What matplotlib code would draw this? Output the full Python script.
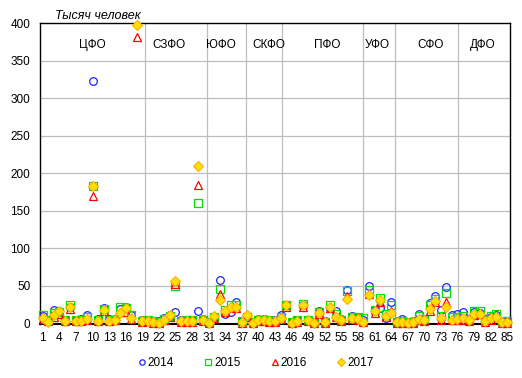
import numpy as np
import matplotlib
matplotlib.use("Agg")
import matplotlib.pyplot as plt

plt.rcParams['font.family'] = ['Liberation Sans', 'DejaVu Sans']

nan = np.nan
regions = np.arange(1, 86)

# тысяч человек, по регионам (1..85)
v2014 = [10, 5, 18, 17, 5, 22, 5, 6, 11, 323, 6, 20, 6, 6, 19, 22, 11, nan, 4, 5,
         3, 3, 7, 11, 15, 4, 5, 4, 17, 6, 2, 9, 58, 13, 15, 29, 3, 8, 2, 6,
         6, 5, 4, 11, 25, 2, 4, 25, 5, 2, 17, 3, 20, 16, 6, 44, 10, 8, 4, 50,
         18, 20, 7, 29, 3, 6, 2, 3, 12, 5, 27, 36, 18, 48, 11, 13, 15, 6, 15, 14,
         6, 9, 11, 3, 3]
v2015 = [11, 4, 14, 15, 5, 25, 4, 5, 8, 183, 5, 19, 5, 5, 22, 20, 11, nan, 3, 4,
         3, 2, 6, 10, 50, 3, 4, 4, 160, 5, 2, 8, 46, 18, 25, 24, 3, 9, 2, 5,
         5, 4, 3, 8, 25, 2, 4, 26, 5, 2, 15, 2, 24, 12, 5, 43, 8, 8, 7, 45,
         18, 34, 12, 24, 2, 3, 2, 2, 10, 6, 24, 32, 10, 41, 9, 8, 10, 5, 16, 16,
         4, 10, 13, 3, 3]
v2016 = [6, 3, 8, 13, 3, 19, 3, 3, 5, 170, 3, 17, 3, 4, 15, 15, 6, 381, 2, 3,
         1, 1, 4, 8, 52, 2, 2, 2, 185, 3, 1, 7, 39, 15, 20, 21, 1, 8, 1, 3,
         3, 2, 2, 6, 22, 1, 2, 22, 3, 1, 13, 1, 21, 9, 3, 37, 6, 5, 2, 39,
         14, 28, 8, 17, 1, 1, 1, 1, 5, 3, 16, 28, 4, 29, 5, 4, 5, 3, 11, 12,
         2, 5, 8, 1, 1]
v2017 = [7, 2.5, 11, 16, 3, 22, 3, 3, 6, 183, 3, 18, 3, 4, 14, 20, 7, 397, 3, 3,
         2, 1, 5, 11, 56, 3, 3, 3, 210, 4, 1, 10, 31, 16, 22, 22, 2, 11, 1, 4,
         4, 3, 3, 7, 24, 1, 3, 24, 4, 1, 14, 2, 22, 9, 4, 32, 7, 6, 2, 38,
         16, 31, 10, 14, 2, 2, 1, 2, 6, 4, 19, 30, 7, 22, 5, 6, 7, 5, 12, 12,
         3, 7, 9, 2, 2]

districts = ["ЦФО", "СЗФО", "ЮФО", "СКФО", "ПФО", "УФО", "СФО", "ДФО"]
district_x = [9.9, 23.8, 33.2, 41.8, 52.5, 61.5, 71.1, 80.5]
borders = [19.55, 30.65, 37.75, 44.35, 58.85, 64.75, 76.1]

fig = plt.figure(figsize=(5.22, 3.78), dpi=100)
ax = fig.add_axes([40 / 522, 1 - 323.5 / 378, 470 / 522, 300.5 / 378])

ax.plot(regions, v2014, ls='none', marker='o', ms=5.5, mfc='none', mec='#2020FF', mew=0.9, label='2014', zorder=3, clip_on=False)
ax.plot(regions, v2015, ls='none', marker='s', ms=5.5, mfc='none', mec='#00E000', mew=0.9, label='2015', zorder=4, clip_on=False)
ax.plot(regions, v2016, ls='none', marker='^', ms=6, mfc='none', mec='#FF0000', mew=0.9, label='2016', zorder=5, clip_on=False)
ax.plot(regions, v2017, ls='none', marker='D', ms=5.5, mfc='#FFE000', mec='#FFB000', mew=0.8, label='2017', zorder=6, clip_on=False)

ax.set_xlim(0.5, 85.5)
ax.set_ylim(0, 400)
ax.set_xticks(np.arange(1, 86, 3))
ax.set_yticks(np.arange(0, 401, 50))
ax.tick_params(length=0, labelsize=8.5, colors='black')
ax.tick_params(axis='y', pad=7)
ax.tick_params(axis='x', pad=6)

for y in range(50, 400, 50):
    ax.axhline(y, color='#BEBEBE', lw=0.9, zorder=1)
for b in borders:
    ax.axvline(b, color='#BEBEBE', lw=0.9, zorder=1)

for sp in ax.spines.values():
    sp.set_color('black')
    sp.set_linewidth(1.0)
ax.spines['bottom'].set_linewidth(1.5)

for name, x in zip(districts, district_x):
    ax.text(x, 371, name, ha='center', va='center', fontsize=8.5)

fig.text(55 / 522, 1 - 16 / 378, "Тысяч человек", fontsize=9, style='italic', va='center', ha='left')

fig.legend(loc='center', bbox_to_anchor=(0.49, 1 - 363 / 378), ncol=4, frameon=False,
           fontsize=8.5, markerscale=0.7, handlelength=0.6, handletextpad=0.2, columnspacing=2.6)

fig.savefig("out.png", dpi=100)
